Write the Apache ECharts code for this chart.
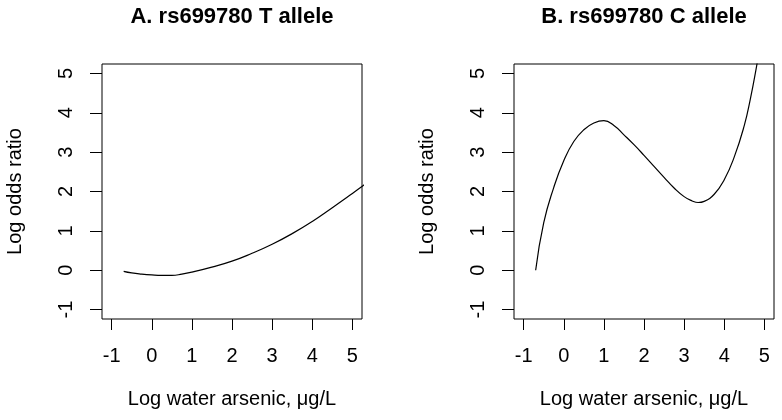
<!DOCTYPE html>
<html>
<head>
<meta charset="utf-8">
<script src="https://cdn.jsdelivr.net/npm/echarts@6/dist/echarts.min.js"></script>
<style>
  html, body { margin: 0; padding: 0; background: #fff; }
  #chart { width: 782px; height: 420px; }
</style>
</head>
<body>
<div id="chart"></div>
<script>
  // panel A: T allele
  var xA = [-0.7, -0.5, -0.25, 0, 0.25, 0.5, 0.75, 1, 1.5, 2, 2.5, 3, 3.5, 4, 4.5, 5, 5.3];
  var yA = [-0.03, -0.07, -0.10, -0.12, -0.13, -0.13, -0.1, -0.05, 0.08, 0.23, 0.43, 0.66, 0.93, 1.24, 1.59, 1.95, 2.17];
  // panel B: C allele
  var xB = [-0.7, -0.5, -0.25, 0, 0.25, 0.5, 0.75, 1, 1.25, 1.5, 1.75, 2, 2.25, 2.5, 2.75, 3, 3.2, 3.35, 3.5, 3.75, 4, 4.25, 4.5, 4.65, 4.8, 4.9];
  var yB = [0, 1.2, 2.1, 2.78, 3.27, 3.57, 3.74, 3.8, 3.68, 3.44, 3.19, 2.92, 2.64, 2.36, 2.09, 1.87, 1.76, 1.72, 1.75, 1.93, 2.3, 2.88, 3.68, 4.35, 5.15, 5.75];

  var ticks = [-1, 0, 1, 2, 3, 4, 5];
  var titles = ['A. rs699780 T allele', 'B. rs699780 C allele'];
  var xName = 'Log water arsenic, \u03bcg/L';
  var yName = 'Log odds ratio';

  var font = '"Liberation Sans", Arial, sans-serif';

  function pairs(xs, ys) {
    var out = [];
    for (var i = 0; i < xs.length; i++) out.push([xs[i], ys[i]]);
    return out;
  }

  var chart = echarts.init(document.getElementById('chart'), null, { renderer: 'canvas' });

  function xAxis(idx) {
    return {
      type: 'value', gridIndex: idx, min: -1.24, max: 5.24,
      name: xName, nameLocation: 'middle', nameGap: 70,
      nameTextStyle: { fontFamily: font, fontSize: 20, color: '#000' },
      axisLine: { show: false, onZero: false },
      axisTick: { show: true, length: 11, customValues: ticks, lineStyle: { color: '#000', width: 1 } },
      axisLabel: { customValues: ticks, margin: 27, fontFamily: font, fontSize: 20, color: '#000' },
      splitLine: { show: false }
    };
  }
  function yAxis(idx) {
    return {
      type: 'value', gridIndex: idx, min: -1.24, max: 5.24,
      name: yName, nameLocation: 'middle', nameGap: 77,
      nameTextStyle: { fontFamily: font, fontSize: 20, color: '#000' },
      axisLine: { show: false, onZero: false },
      axisTick: { show: true, length: 12, customValues: ticks, lineStyle: { color: '#000', width: 1 } },
      axisLabel: { customValues: ticks, rotate: 90, margin: 26, fontFamily: font, fontSize: 20, color: '#000' },
      splitLine: { show: false }
    };
  }

  var option = {
    animation: false,
    backgroundColor: '#fff',
    grid: [
      { left: 102, top: 64, width: 260, height: 255, show: true, borderColor: '#000', borderWidth: 1 },
      { left: 514, top: 64, width: 260, height: 255, show: true, borderColor: '#000', borderWidth: 1 }
    ],
    graphic: [
      { type: 'text', x: 232, y: 17, style: { text: titles[0], font: 'bold 22px ' + font, fill: '#000', textAlign: 'center', textVerticalAlign: 'middle' } },
      { type: 'text', x: 644, y: 17, style: { text: titles[1], font: 'bold 22px ' + font, fill: '#000', textAlign: 'center', textVerticalAlign: 'middle' } }
    ],
    xAxis: [xAxis(0), xAxis(1)],
    yAxis: [yAxis(0), yAxis(1)],
    series: [
      {
        type: 'line', xAxisIndex: 0, yAxisIndex: 0, data: pairs(xA, yA),
        showSymbol: false, smooth: 0.5, clip: true,
        lineStyle: { color: '#000', width: 1.2 }
      },
      {
        type: 'line', xAxisIndex: 1, yAxisIndex: 1, data: pairs(xB, yB),
        showSymbol: false, smooth: 0.5, clip: true,
        lineStyle: { color: '#000', width: 1.2 }
      }
    ]
  };
  chart.setOption(option);
</script>
</body>
</html>
